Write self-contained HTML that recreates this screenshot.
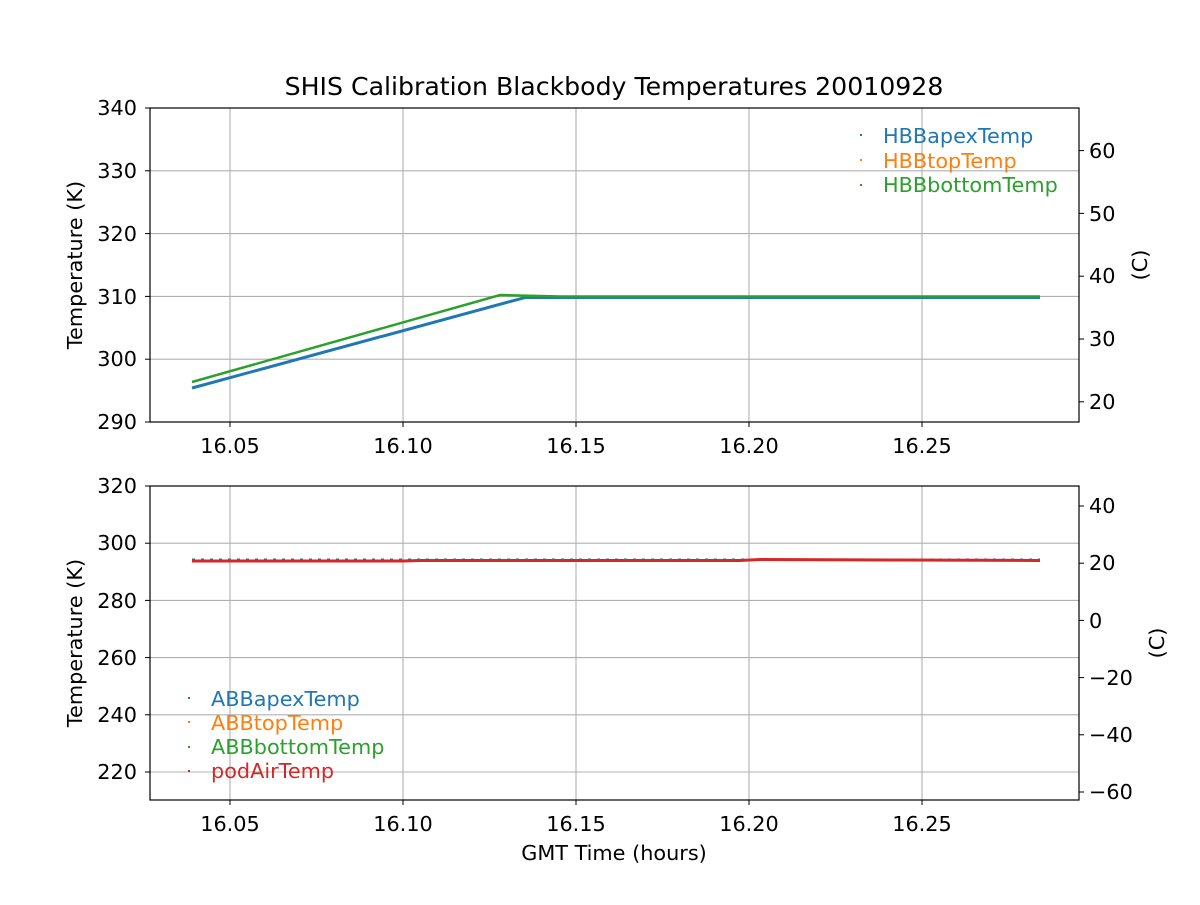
<!DOCTYPE html>
<html><head><meta charset="utf-8"><style>
body{margin:0;background:#fff}
svg text{font-family:"DejaVu Sans","Liberation Sans",sans-serif;font-size:20.8px;fill:#000}
</style></head><body>
<svg width="1200" height="900" xmlns="http://www.w3.org/2000/svg">
<rect width="1200" height="900" fill="#fff"/>
<text x="614" y="95" text-anchor="middle" style="font-size:25.2px">SHIS Calibration Blackbody Temperatures 20010928</text>
<g stroke="#b0b0b0" stroke-width="1.1">
<line x1="230" y1="108" x2="230" y2="422"/><line x1="403" y1="108" x2="403" y2="422"/><line x1="576" y1="108" x2="576" y2="422"/><line x1="749" y1="108" x2="749" y2="422"/><line x1="922" y1="108" x2="922" y2="422"/>
<line x1="150" y1="170.8" x2="1079" y2="170.8"/><line x1="150" y1="233.6" x2="1079" y2="233.6"/><line x1="150" y1="296.4" x2="1079" y2="296.4"/><line x1="150" y1="359.2" x2="1079" y2="359.2"/>
</g>
<polyline points="192,388 525,297.5 1040,297.5" fill="none" stroke="#1f77b4" stroke-width="3"/>
<polyline points="192,382 500,295 540,296 560,296.5 1040,296.5" fill="none" stroke="#2ca02c" stroke-width="2.5"/>
<rect x="150" y="108" width="929" height="314" fill="none" stroke="#000" stroke-width="1.2"/>
<g stroke="#000"><line x1="145" y1="108" x2="150" y2="108"/><line x1="145" y1="170.8" x2="150" y2="170.8"/><line x1="145" y1="233.6" x2="150" y2="233.6"/><line x1="145" y1="296.4" x2="150" y2="296.4"/><line x1="145" y1="359.2" x2="150" y2="359.2"/><line x1="145" y1="422" x2="150" y2="422"/>
<line x1="230" y1="422" x2="230" y2="427"/><line x1="403" y1="422" x2="403" y2="427"/><line x1="576" y1="422" x2="576" y2="427"/><line x1="749" y1="422" x2="749" y2="427"/><line x1="922" y1="422" x2="922" y2="427"/>
<line x1="1079" y1="150.6" x2="1084" y2="150.6"/><line x1="1079" y1="213.4" x2="1084" y2="213.4"/><line x1="1079" y1="276.2" x2="1084" y2="276.2"/><line x1="1079" y1="339" x2="1084" y2="339"/><line x1="1079" y1="401.8" x2="1084" y2="401.8"/></g>
<g text-anchor="end"><text x="137" y="115">340</text><text x="137" y="178">330</text><text x="137" y="241">320</text><text x="137" y="304">310</text><text x="137" y="366">300</text><text x="137" y="429">290</text></g>
<g><text x="1089" y="158">60</text><text x="1089" y="221">50</text><text x="1089" y="283">40</text><text x="1089" y="346">30</text><text x="1089" y="409">20</text></g>
<g text-anchor="middle"><text x="230" y="453">16.05</text><text x="403" y="453">16.10</text><text x="576" y="453">16.15</text><text x="749" y="453">16.20</text><text x="922" y="453">16.25</text></g>
<text transform="translate(82,265) rotate(-90)" text-anchor="middle">Temperature (K)</text>
<text transform="translate(1147,265) rotate(-90)" text-anchor="middle">(C)</text>
<rect x="860" y="134" width="2" height="2" fill="#1f77b4"/><text x="883" y="143" style="fill:#1f77b4">HBBapexTemp</text>
<rect x="860" y="159" width="2" height="2" fill="#ff7f0e"/><text x="883" y="168" style="fill:#ff7f0e">HBBtopTemp</text>
<rect x="860" y="184" width="2" height="2" fill="#2ca02c"/><text x="883" y="192" style="fill:#2ca02c">HBBbottomTemp</text>
<g stroke="#b0b0b0" stroke-width="1.1">
<line x1="230" y1="486" x2="230" y2="800"/><line x1="403" y1="486" x2="403" y2="800"/><line x1="576" y1="486" x2="576" y2="800"/><line x1="749" y1="486" x2="749" y2="800"/><line x1="922" y1="486" x2="922" y2="800"/>
<line x1="150" y1="543.2" x2="1079" y2="543.2"/><line x1="150" y1="600.4" x2="1079" y2="600.4"/><line x1="150" y1="657.6" x2="1079" y2="657.6"/><line x1="150" y1="714.8" x2="1079" y2="714.8"/><line x1="150" y1="772" x2="1079" y2="772"/>
</g>
<line x1="192" y1="559.5" x2="1040" y2="559.5" stroke="#1f77b4" stroke-width="2" stroke-dasharray="3,6"/>
<polyline points="192,561 403,561 420,560.5 740,560.5 760,559.5 900,560 1040,560.5" fill="none" stroke="#d62728" stroke-width="3"/>
<rect x="150" y="486" width="929" height="314" fill="none" stroke="#000" stroke-width="1.2"/>
<g stroke="#000"><line x1="145" y1="486" x2="150" y2="486"/><line x1="145" y1="543.2" x2="150" y2="543.2"/><line x1="145" y1="600.4" x2="150" y2="600.4"/><line x1="145" y1="657.6" x2="150" y2="657.6"/><line x1="145" y1="714.8" x2="150" y2="714.8"/><line x1="145" y1="772" x2="150" y2="772"/>
<line x1="230" y1="800" x2="230" y2="805"/><line x1="403" y1="800" x2="403" y2="805"/><line x1="576" y1="800" x2="576" y2="805"/><line x1="749" y1="800" x2="749" y2="805"/><line x1="922" y1="800" x2="922" y2="805"/>
<line x1="1079" y1="506" x2="1084" y2="506"/><line x1="1079" y1="563.2" x2="1084" y2="563.2"/><line x1="1079" y1="620.4" x2="1084" y2="620.4"/><line x1="1079" y1="677.6" x2="1084" y2="677.6"/><line x1="1079" y1="734.8" x2="1084" y2="734.8"/><line x1="1079" y1="792" x2="1084" y2="792"/></g>
<g text-anchor="end"><text x="137" y="493">320</text><text x="137" y="550">300</text><text x="137" y="608">280</text><text x="137" y="665">260</text><text x="137" y="722">240</text><text x="137" y="779">220</text></g>
<g><text x="1089" y="513">40</text><text x="1089" y="570">20</text><text x="1089" y="628">0</text><text x="1089" y="685">−20</text><text x="1089" y="742">−40</text><text x="1089" y="799">−60</text></g>
<g text-anchor="middle"><text x="230" y="831">16.05</text><text x="403" y="831">16.10</text><text x="576" y="831">16.15</text><text x="749" y="831">16.20</text><text x="922" y="831">16.25</text></g>
<text x="614" y="860" text-anchor="middle">GMT Time (hours)</text>
<text transform="translate(82,643) rotate(-90)" text-anchor="middle">Temperature (K)</text>
<text transform="translate(1164,643) rotate(-90)" text-anchor="middle">(C)</text>
<rect x="188" y="697" width="2" height="2" fill="#1f77b4"/><text x="211" y="706" style="fill:#1f77b4">ABBapexTemp</text>
<rect x="188" y="721" width="2" height="2" fill="#ff7f0e"/><text x="211" y="730" style="fill:#ff7f0e">ABBtopTemp</text>
<rect x="188" y="746" width="2" height="2" fill="#2ca02c"/><text x="211" y="754" style="fill:#2ca02c">ABBbottomTemp</text>
<rect x="188" y="770" width="2" height="2" fill="#d62728"/><text x="211" y="778" style="fill:#d62728">podAirTemp</text>
</svg>
</body></html>
